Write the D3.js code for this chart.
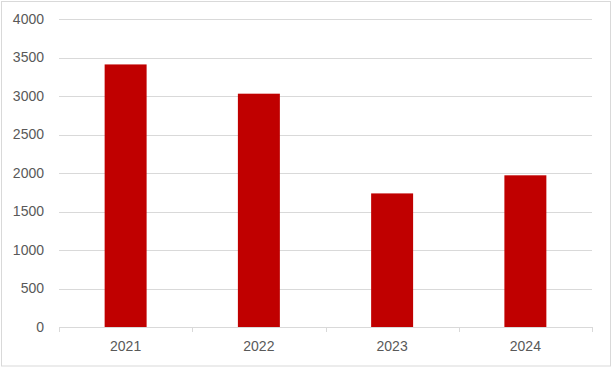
<!DOCTYPE html>
<html>
<head>
<meta charset="utf-8">
<script src="https://cdn.jsdelivr.net/npm/d3@7"></script>
<style>
  body { margin: 0; background: #fff; }
  .axis text { font-family: Arial, "Liberation Sans", sans-serif; font-size: 14px; fill: #595959; }
</style>
</head>
<body>
<div id="chart"></div>
<script>
const years = ["2021", "2022", "2023", "2024"];
const values = [3410, 3030, 1735, 1970];
const yTicks = [0, 500, 1000, 1500, 2000, 2500, 3000, 3500, 4000];

const fullWidth = 612, fullHeight = 367;
const margin = { top: 19, right: 20, bottom: 40, left: 59 },
  width = 592 - margin.left,
  height = 327 - margin.top;

const root = d3.select("#chart")
  .append("svg")
  .attr("width", fullWidth)
  .attr("height", fullHeight);

// outer chart border
root.append("rect")
  .attr("x", 1.5).attr("y", 1.5)
  .attr("width", fullWidth - 3).attr("height", fullHeight - 2.5)
  .attr("fill", "#fff")
  .attr("stroke", "#d9d9d9")
  .attr("stroke-width", 1);

const svg = root.append("g")
  .attr("transform", `translate(${margin.left},${margin.top})`);

const y = d3.scaleLinear().domain([0, 4000]).range([height, 0]);
const x = d3.scaleBand().domain(years).range([0, width]).paddingInner(0.685).paddingOuter(0.3425);

// gridlines
svg.append("g")
  .selectAll("line")
  .data(yTicks.filter(d => d > 0))
  .enter()
  .append("line")
  .attr("x1", 0).attr("x2", width)
  .attr("y1", d => Math.round(y(d)) + 0.5)
  .attr("y2", d => Math.round(y(d)) + 0.5)
  .attr("stroke", "#d9d9d9");

// y axis labels only
const yAxis = svg.append("g")
  .attr("class", "axis")
  .call(d3.axisLeft(y).tickValues(yTicks).tickFormat(d3.format("d")).tickSize(0).tickPadding(15));
yAxis.select(".domain").remove();

// bars
svg.selectAll("rect.bar")
  .data(values)
  .enter()
  .append("rect")
  .attr("class", "bar")
  .attr("x", (d, i) => x(years[i]))
  .attr("y", d => y(d))
  .attr("width", x.bandwidth())
  .attr("height", d => height - y(d))
  .attr("fill", "#c00000");

// x axis with ticks between categories
const xAxis = svg.append("g")
  .attr("class", "axis")
  .attr("transform", `translate(0,${height})`)
  .call(d3.axisBottom(x).tickSize(0).tickPadding(14));
xAxis.select(".domain").attr("stroke", "#d9d9d9").attr("d", `M0.5,0.5H${width}`);

const step = x.step();
xAxis.selectAll("line.sep")
  .data(d3.range(years.length + 1))
  .enter()
  .append("line")
  .attr("class", "sep")
  .attr("x1", i => Math.round(i * step) + 0.5)
  .attr("x2", i => Math.round(i * step) + 0.5)
  .attr("y1", 0).attr("y2", 5)
  .attr("stroke", "#d9d9d9");
</script>
</body>
</html>
